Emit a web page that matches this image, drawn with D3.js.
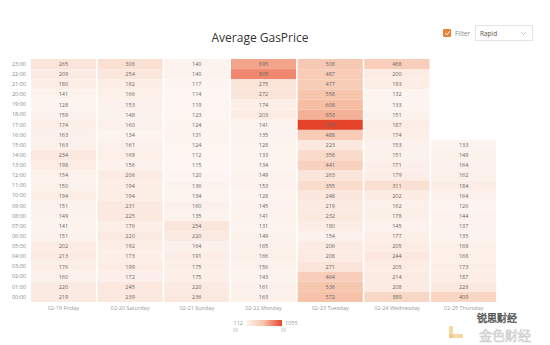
<!DOCTYPE html>
<html><head><meta charset="utf-8">
<script src="https://cdn.jsdelivr.net/npm/d3@7/dist/d3.min.js"></script>
<style>
html,body{margin:0;padding:0;background:#fff;}
svg{display:block;font-family:"Open Sans","Segoe UI",sans-serif;}
</style></head>
<body><svg id="c" width="550" height="345"></svg>
<script>
const days = ["02-19 Friday","02-20 Saturday","02-21 Sunday","02-22 Monday","02-23 Tuesday","02-24 Wednesday","02-25 Thursday"];
const hours = ["23:00","22:00","21:00","20:00","19:00","18:00","17:00","16:00","15:00","14:00","13:00","12:00","11:00","10:00","09:00","08:00","07:00","06:00","05:00","04:00","03:00","02:00","01:00","00:00"];
// values per day, in hour order above (null = no data)
const friday    = [265,209,180,141,128,159,174,163,163,234,198,154,150,194,151,149,141,151,202,213,176,160,220,219];
const saturday  = [306,254,182,166,153,148,160,134,161,169,156,206,194,194,231,225,176,220,192,173,199,172,245,239];
const sunday    = [140,140,117,114,119,123,124,131,124,112,115,120,136,134,160,135,254,220,164,191,175,175,220,236];
const monday    = [695,805,275,272,174,203,141,135,128,133,134,149,153,128,145,141,131,149,165,166,156,143,161,163];
const tuesday   = [508,487,477,558,608,653,1055,488,223,358,441,263,355,248,219,232,180,154,206,208,271,464,536,572];
const wednesday = [468,200,193,132,133,151,187,174,153,151,171,179,311,202,162,178,145,177,205,244,205,214,208,389];
const thursday  = [null,null,null,null,null,null,null,null,133,148,164,162,184,164,126,144,137,135,168,168,173,187,228,409];
const legendRange = [112,1055];

const series = [friday,saturday,sunday,monday,tuesday,wednesday,thursday];
const cells = [];
series.forEach((arr,i)=>arr.forEach((v,j)=>{ if(v!=null) cells.push({day:days[i],hour:hours[j],v}); }));

const svg = d3.select("#c");
const x = d3.scaleBand().domain(days).range([30,497]);
const y = d3.scaleBand().domain(hours).range([59,302]);
const color = d3.scaleLinear().domain([legendRange[0],600,legendRange[1]])
  .range(["#fdf6f2","#f6bfa5","#e6442a"]);

// title
svg.append("text").attr("x",260).attr("y",42).attr("text-anchor","middle")
  .attr("font-size",12).attr("fill","#333").text("Average GasPrice");

// filter widget
svg.append("rect").attr("x",443).attr("y",29).attr("width",8).attr("height",8).attr("rx",1).attr("fill","#e8833a");
svg.append("path").attr("d","M445,33 l1.8,1.8 l3,-3.5").attr("fill","none").attr("stroke","#fff").attr("stroke-width",1);
svg.append("text").attr("x",455).attr("y",36).attr("font-size",6.5).attr("fill","#888").text("Filter");
svg.append("rect").attr("x",475.5).attr("y",25.5).attr("width",57).attr("height",15).attr("fill","#fff").attr("stroke","#e3e3e3");
svg.append("text").attr("x",480).attr("y",36).attr("font-size",6.5).attr("fill","#555").text("Rapid");
svg.append("path").attr("d","M521,32 l2.5,2.5 l2.5,-2.5").attr("fill","none").attr("stroke","#bbb").attr("stroke-width",0.8);

// cells
svg.append("g").selectAll("rect").data(cells).join("rect")
  .attr("x",d=>x(d.day)+0.8).attr("y",d=>y(d.hour))
  .attr("width",x.bandwidth()-1.6).attr("height",y.bandwidth())
  .attr("fill",d=>color(d.v));
svg.append("g").selectAll("text").data(cells).join("text")
  .attr("x",d=>x(d.day)+x.bandwidth()/2).attr("y",d=>y(d.hour)+y.bandwidth()/2+2)
  .attr("text-anchor","middle").attr("font-size",5.5).attr("fill","#666")
  .text(d=>d.v);

// axes
const ya = svg.append("g").attr("transform","translate(27,0)")
  .call(d3.axisLeft(y).tickSize(0).tickPadding(1));
ya.select(".domain").remove();
ya.selectAll("text").attr("font-size",5.5).attr("fill","#888").attr("font-family","Open Sans, sans-serif");
const xa = svg.append("g").attr("transform","translate(0,305)")
  .call(d3.axisBottom(x).tickSize(0).tickPadding(1));
xa.select(".domain").remove();
xa.selectAll("text").attr("font-size",5.5).attr("fill","#999").attr("font-family","Open Sans, sans-serif");

// legend
const defs = svg.append("defs");
const lg = defs.append("linearGradient").attr("id","lg");
[0,0.5,1].forEach(o=>lg.append("stop").attr("offset",o)
  .attr("stop-color",color(legendRange[0]+o*(legendRange[1]-legendRange[0]))));
svg.append("rect").attr("x",246).attr("y",320).attr("width",36).attr("height",6).attr("fill","url(#lg)");
svg.append("text").attr("x",243).attr("y",325).attr("text-anchor","end").attr("font-size",5.5).attr("fill","#999").text(legendRange[0]);
svg.append("text").attr("x",285).attr("y",325).attr("font-size",5.5).attr("fill","#999").text(legendRange[1]);
svg.append("rect").attr("x",233).attr("y",328).attr("width",5).attr("height",4).attr("fill","#e6e6e6");
svg.append("rect").attr("x",281).attr("y",328).attr("width",5).attr("height",4).attr("fill","#e6e6e6");

// watermark
svg.append("rect").attr("x",449).attr("y",326).attr("width",4).attr("height",12).attr("fill","#f1c77a").attr("opacity",0.7);
svg.append("rect").attr("x",449).attr("y",334).attr("width",14).attr("height",4).attr("fill","#f1c77a").attr("opacity",0.7);
svg.append("text").attr("x",497).attr("y",322).attr("text-anchor","middle").attr("font-size",10)
  .attr("font-family","Noto Sans CJK SC").attr("fill","#fff").attr("stroke","#555").attr("stroke-width",0.6).text("锐思财经");
svg.append("text").attr("x",505).attr("y",340).attr("text-anchor","middle").attr("font-size",13)
  .attr("font-family","Noto Sans CJK SC").attr("fill","#eee").attr("stroke","#ccc").attr("stroke-width",0.6).text("金色财经");
</script></body></html>
